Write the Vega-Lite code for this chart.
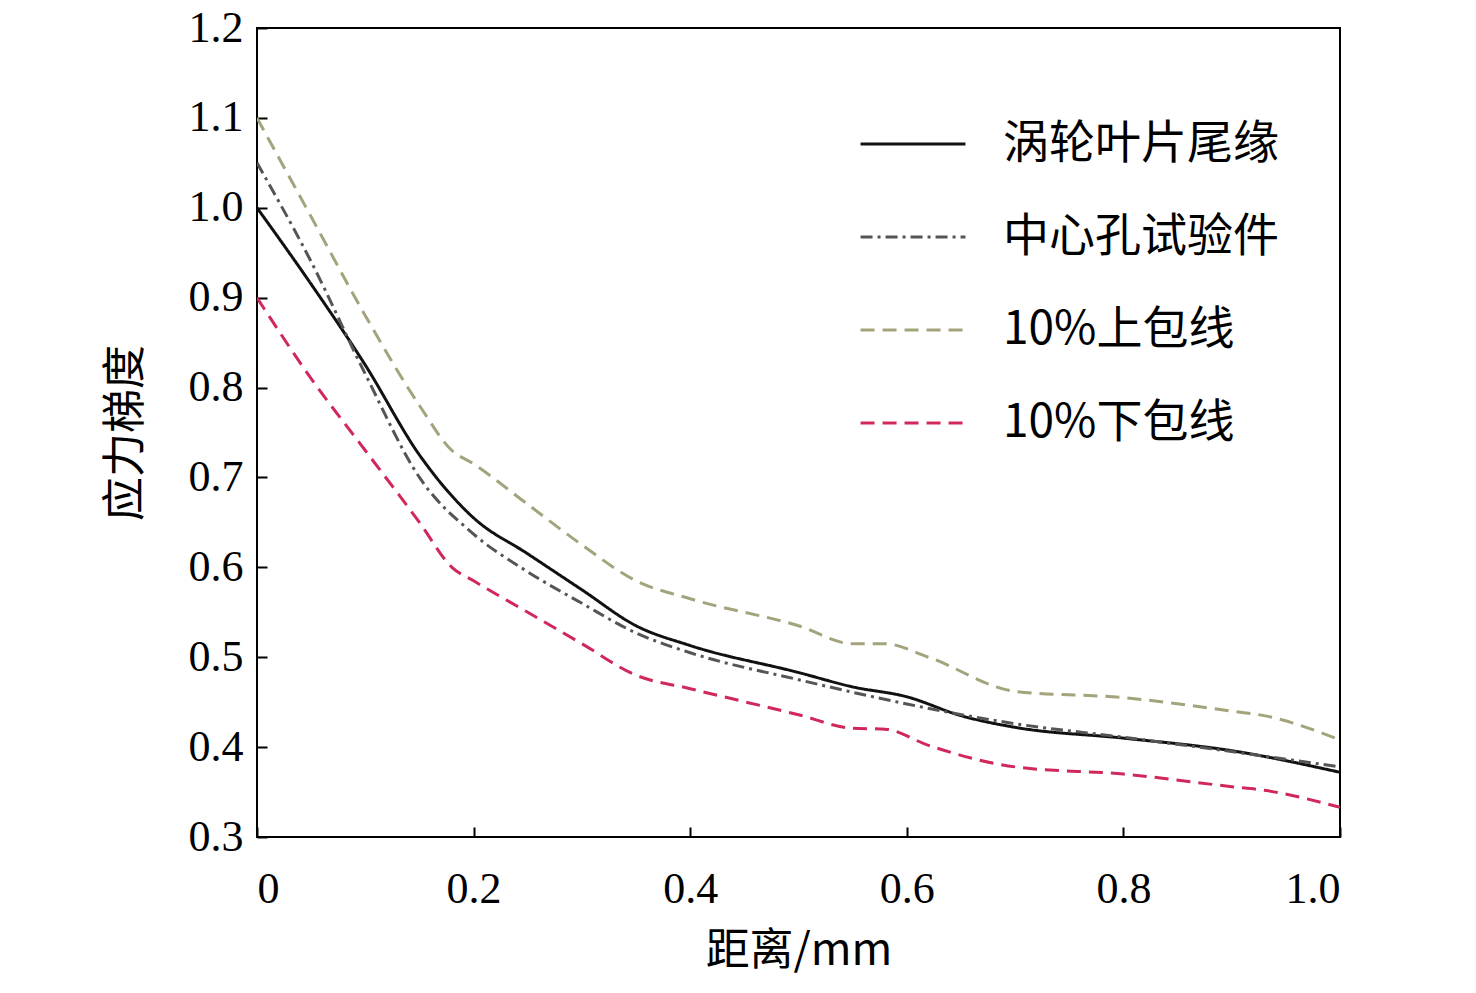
{
  "$schema": "https://vega.github.io/schema/vega-lite/v6.json",
  "width": 1083,
  "height": 809,
  "autosize": {"type": "none"},
  "padding": {"left": 257, "top": 28, "right": 136, "bottom": 156},
  "background": "white",
  "config": {
    "view": {"stroke": "black", "strokeWidth": 2},
    "font": "Liberation Serif"
  },
  "data": {
    "values": [
      {"s": "涡轮叶片尾缘", "x": 0, "y": 1.0}, {"s": "涡轮叶片尾缘", "x": 0.05, "y": 0.915}, {"s": "涡轮叶片尾缘", "x": 0.1, "y": 0.825}, {"s": "涡轮叶片尾缘", "x": 0.15, "y": 0.725}, {"s": "涡轮叶片尾缘", "x": 0.2, "y": 0.655}, {"s": "涡轮叶片尾缘", "x": 0.25, "y": 0.615}, {"s": "涡轮叶片尾缘", "x": 0.3, "y": 0.575}, {"s": "涡轮叶片尾缘", "x": 0.35, "y": 0.535}, {"s": "涡轮叶片尾缘", "x": 0.4, "y": 0.513}, {"s": "涡轮叶片尾缘", "x": 0.5, "y": 0.483}, {"s": "涡轮叶片尾缘", "x": 0.55, "y": 0.467}, {"s": "涡轮叶片尾缘", "x": 0.6, "y": 0.456}, {"s": "涡轮叶片尾缘", "x": 0.65, "y": 0.435}, {"s": "涡轮叶片尾缘", "x": 0.7, "y": 0.422}, {"s": "涡轮叶片尾缘", "x": 0.8, "y": 0.41}, {"s": "涡轮叶片尾缘", "x": 0.9, "y": 0.396}, {"s": "涡轮叶片尾缘", "x": 1.0, "y": 0.372},
      {"s": "中心孔试验件", "x": 0, "y": 1.05}, {"s": "中心孔试验件", "x": 0.05, "y": 0.94}, {"s": "中心孔试验件", "x": 0.1, "y": 0.815}, {"s": "中心孔试验件", "x": 0.15, "y": 0.7}, {"s": "中心孔试验件", "x": 0.2, "y": 0.637}, {"s": "中心孔试验件", "x": 0.25, "y": 0.595}, {"s": "中心孔试验件", "x": 0.3, "y": 0.56}, {"s": "中心孔试验件", "x": 0.35, "y": 0.527}, {"s": "中心孔试验件", "x": 0.4, "y": 0.505}, {"s": "中心孔试验件", "x": 0.5, "y": 0.475}, {"s": "中心孔试验件", "x": 0.6, "y": 0.448}, {"s": "中心孔试验件", "x": 0.7, "y": 0.426}, {"s": "中心孔试验件", "x": 0.8, "y": 0.411}, {"s": "中心孔试验件", "x": 0.9, "y": 0.395}, {"s": "中心孔试验件", "x": 1.0, "y": 0.378},
      {"s": "10%上包线", "x": 0, "y": 1.1}, {"s": "10%上包线", "x": 0.05, "y": 0.99}, {"s": "10%上包线", "x": 0.1, "y": 0.88}, {"s": "10%上包线", "x": 0.15, "y": 0.78}, {"s": "10%上包线", "x": 0.18, "y": 0.73}, {"s": "10%上包线", "x": 0.2, "y": 0.715}, {"s": "10%上包线", "x": 0.25, "y": 0.67}, {"s": "10%上包线", "x": 0.3, "y": 0.625}, {"s": "10%上包线", "x": 0.35, "y": 0.585}, {"s": "10%上包线", "x": 0.4, "y": 0.565}, {"s": "10%上包线", "x": 0.5, "y": 0.535}, {"s": "10%上包线", "x": 0.55, "y": 0.515}, {"s": "10%上包线", "x": 0.58, "y": 0.515}, {"s": "10%上包线", "x": 0.62, "y": 0.5}, {"s": "10%上包线", "x": 0.7, "y": 0.462}, {"s": "10%上包线", "x": 0.8, "y": 0.455}, {"s": "10%上包线", "x": 0.9, "y": 0.44}, {"s": "10%上包线", "x": 0.93, "y": 0.435}, {"s": "10%上包线", "x": 1.0, "y": 0.408},
      {"s": "10%下包线", "x": 0, "y": 0.9}, {"s": "10%下包线", "x": 0.05, "y": 0.81}, {"s": "10%下包线", "x": 0.1, "y": 0.73}, {"s": "10%下包线", "x": 0.15, "y": 0.65}, {"s": "10%下包线", "x": 0.18, "y": 0.6}, {"s": "10%下包线", "x": 0.2, "y": 0.585}, {"s": "10%下包线", "x": 0.25, "y": 0.55}, {"s": "10%下包线", "x": 0.3, "y": 0.515}, {"s": "10%下包线", "x": 0.35, "y": 0.48}, {"s": "10%下包线", "x": 0.4, "y": 0.465}, {"s": "10%下包线", "x": 0.5, "y": 0.436}, {"s": "10%下包线", "x": 0.55, "y": 0.421}, {"s": "10%下包线", "x": 0.58, "y": 0.42}, {"s": "10%下包线", "x": 0.62, "y": 0.402}, {"s": "10%下包线", "x": 0.7, "y": 0.378}, {"s": "10%下包线", "x": 0.8, "y": 0.37}, {"s": "10%下包线", "x": 0.9, "y": 0.356}, {"s": "10%下包线", "x": 0.93, "y": 0.352}, {"s": "10%下包线", "x": 1.0, "y": 0.333}
    ]
  },
  "mark": {"type": "line", "strokeWidth": 3, "clip": true, "interpolate": "monotone"},
  "encoding": {
    "x": {
      "field": "x", "type": "quantitative",
      "scale": {"domain": [0, 1]},
      "axis": {"values": [0, 0.2, 0.4, 0.6, 0.8, 1.0], "labelExpr": "datum.value == 0 ? '0' : format(datum.value, '.1f')", "title": "距离/mm", "titleFont": "Noto Sans CJK SC", "titleFontWeight": "normal", "titleFontSize": 44, "titlePadding": 18, "labelFontSize": 44, "labelPadding": 40, "tickSize": -10, "tickColor": "black", "tickWidth": 2, "domain": false, "grid": false, "labelColor": "black", "titleColor": "black"}
    },
    "y": {
      "field": "y", "type": "quantitative",
      "scale": {"domain": [0.3, 1.2]},
      "axis": {"values": [0.3, 0.4, 0.5, 0.6, 0.7, 0.8, 0.9, 1.0, 1.1, 1.2], "format": ".1f", "title": "应力梯度", "titleFont": "Noto Sans CJK SC", "titleFontWeight": "normal", "titleFontSize": 44, "titlePadding": 40, "labelFontSize": 44, "labelPadding": 24, "tickSize": -10, "tickColor": "black", "tickWidth": 2, "domain": false, "grid": false, "labelColor": "black", "titleColor": "black"}
    },
    "color": {
      "field": "s", "type": "nominal",
      "scale": {"domain": ["涡轮叶片尾缘", "中心孔试验件", "10%上包线", "10%下包线"], "range": ["#111111", "#555555", "#a3a37c", "#d0285a"]},
      "legend": {"title": null, "orient": "none", "legendX": 602, "legendY": 62, "symbolType": "stroke", "symbolSize": 11000, "symbolStrokeWidth": 3, "labelFont": "Noto Sans CJK SC", "labelFontSize": 46, "labelColor": "black", "rowPadding": 16, "labelOffset": 36, "labelLimit": 500}
    },
    "strokeDash": {
      "field": "s", "type": "nominal",
      "scale": {"domain": ["涡轮叶片尾缘", "中心孔试验件", "10%上包线", "10%下包线"], "range": [[1, 0], [12, 5, 3, 5], [14, 8], [14, 8]]},
      "legend": null
    }
  }
}
